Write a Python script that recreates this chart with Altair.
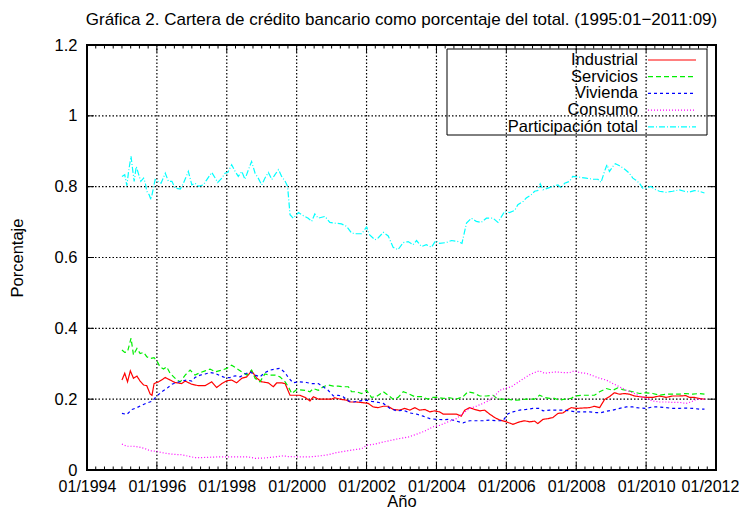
import altair as alt
import pandas as pd

TITLE = "Gráfica 2. Cartera de crédito bancario como porcentaje del total. (1995:01−2011:09)"
SERIES = ["Industrial", "Servicios", "Vivienda", "Consumo", "Participación total"]
COLORS = ["#ff0000", "#00ee00", "#0000ff", "#ff00ff", "#00ffff"]
DASHES = [[1, 0], [5, 3], [3, 3], [1, 2], [6, 2, 1, 2]]
X_TICKS = [1994, 1996, 1998, 2000, 2002, 2004, 2006, 2008, 2010, 2012]
Y_TICKS = [0, 0.2, 0.4, 0.6, 0.8, 1.0, 1.2]

industrial_t = [1995.00, 1995.08, 1995.16, 1995.24, 1995.33, 1995.43, 1995.52, 1995.62, 1995.71, 1995.81,
                1995.86, 1995.92, 1996.05, 1996.24, 1996.38, 1996.52, 1996.71, 1996.81, 1997.00, 1997.19,
                1997.38, 1997.57, 1997.71, 1997.86, 1998.00, 1998.14, 1998.28, 1998.43, 1998.57, 1998.71,
                1998.86, 1999.00, 1999.19, 1999.33, 1999.43, 1999.57, 1999.67, 1999.81, 1999.95, 2000.09,
                2000.24, 2000.38, 2000.48, 2000.62, 2000.81, 2001.00, 2001.09, 2001.24, 2001.43, 2001.52,
                2001.71, 2001.90, 2002.05, 2002.19, 2002.33, 2002.48, 2002.62, 2002.76, 2002.95, 2003.09,
                2003.24, 2003.38, 2003.52, 2003.67, 2003.81, 2003.95, 2004.09, 2004.19, 2004.38, 2004.57,
                2004.71, 2004.81, 2004.95, 2005.09, 2005.24, 2005.38, 2005.52, 2005.67, 2005.81, 2006.00,
                2006.19, 2006.38, 2006.52, 2006.67, 2006.81, 2006.90, 2007.05, 2007.19, 2007.33, 2007.48,
                2007.62, 2007.76, 2007.86, 2008.00, 2008.19, 2008.38, 2008.52, 2008.67, 2008.81, 2008.95,
                2009.09, 2009.24, 2009.38, 2009.52, 2009.67, 2009.81, 2010.00, 2010.19, 2010.38, 2010.57,
                2010.76, 2010.95, 2011.14, 2011.24, 2011.38, 2011.52, 2011.67]
industrial_v = [0.254, 0.273, 0.249, 0.280, 0.259, 0.265, 0.251, 0.240, 0.238, 0.214,
                0.211, 0.244, 0.249, 0.261, 0.254, 0.247, 0.244, 0.251, 0.242, 0.238,
                0.238, 0.249, 0.233, 0.244, 0.252, 0.254, 0.246, 0.259, 0.263, 0.280,
                0.259, 0.249, 0.246, 0.235, 0.246, 0.246, 0.244, 0.211, 0.211, 0.211,
                0.205, 0.195, 0.207, 0.200, 0.200, 0.200, 0.204, 0.200, 0.197, 0.192,
                0.192, 0.190, 0.188, 0.178, 0.176, 0.180, 0.180, 0.171, 0.169, 0.174,
                0.169, 0.176, 0.169, 0.171, 0.164, 0.167, 0.164, 0.158, 0.158, 0.158,
                0.152, 0.169, 0.176, 0.171, 0.167, 0.169, 0.158, 0.148, 0.141, 0.136,
                0.129, 0.136, 0.139, 0.136, 0.138, 0.131, 0.143, 0.145, 0.148, 0.160,
                0.161, 0.171, 0.176, 0.174, 0.175, 0.176, 0.180, 0.176, 0.199, 0.207,
                0.218, 0.214, 0.216, 0.214, 0.209, 0.207, 0.205, 0.205, 0.209, 0.205,
                0.209, 0.209, 0.210, 0.205, 0.205, 0.202, 0.200]

servicios_t = [1995.00, 1995.08, 1995.16, 1995.26, 1995.33, 1995.43, 1995.52, 1995.62, 1995.71, 1995.81,
               1995.92, 1996.00, 1996.09, 1996.19, 1996.28, 1996.38, 1996.48, 1996.57, 1996.67, 1996.81,
               1996.95, 1997.09, 1997.24, 1997.38, 1997.52, 1997.67, 1997.86, 1998.00, 1998.14, 1998.28,
               1998.43, 1998.57, 1998.71, 1998.81, 1998.95, 1999.09, 1999.24, 1999.38, 1999.52, 1999.67,
               1999.76, 1999.86, 2000.00, 2000.24, 2000.38, 2000.48, 2000.62, 2000.76, 2000.90, 2001.05,
               2001.19, 2001.33, 2001.48, 2001.57, 2001.71, 2001.86, 2002.00, 2002.14, 2002.28, 2002.48,
               2002.62, 2002.76, 2002.90, 2003.05, 2003.19, 2003.38, 2003.57, 2003.76, 2003.90, 2004.05,
               2004.19, 2004.38, 2004.57, 2004.76, 2004.90, 2005.05, 2005.24, 2005.43, 2005.62, 2005.76,
               2006.00, 2006.28, 2006.57, 2006.81, 2006.95, 2007.09, 2007.24, 2007.38, 2007.52, 2007.67,
               2007.86, 2007.95, 2008.14, 2008.33, 2008.52, 2008.67, 2008.86, 2009.05, 2009.19, 2009.33,
               2009.48, 2009.62, 2009.81, 2010.00, 2010.19, 2010.38, 2010.57, 2010.76, 2010.95, 2011.14,
               2011.33, 2011.52, 2011.67]
servicios_v = [0.339, 0.332, 0.334, 0.372, 0.325, 0.343, 0.329, 0.332, 0.320, 0.315,
               0.317, 0.308, 0.291, 0.285, 0.291, 0.273, 0.263, 0.254, 0.249, 0.268,
               0.282, 0.268, 0.275, 0.280, 0.285, 0.277, 0.282, 0.287, 0.296, 0.287,
               0.277, 0.268, 0.282, 0.259, 0.249, 0.271, 0.268, 0.268, 0.263, 0.249,
               0.235, 0.216, 0.227, 0.225, 0.221, 0.230, 0.225, 0.235, 0.240, 0.237,
               0.237, 0.235, 0.235, 0.221, 0.221, 0.216, 0.225, 0.205, 0.207, 0.221,
               0.211, 0.200, 0.205, 0.221, 0.216, 0.207, 0.207, 0.200, 0.205, 0.205,
               0.202, 0.204, 0.200, 0.207, 0.221, 0.218, 0.209, 0.209, 0.211, 0.200,
               0.200, 0.197, 0.200, 0.200, 0.211, 0.205, 0.202, 0.202, 0.197, 0.200,
               0.202, 0.209, 0.211, 0.211, 0.211, 0.221, 0.230, 0.225, 0.232, 0.227,
               0.224, 0.221, 0.216, 0.218, 0.216, 0.211, 0.214, 0.214, 0.214, 0.216,
               0.214, 0.216, 0.214]

vivienda_t = [1995.00, 1995.14, 1995.29, 1995.43, 1995.57, 1995.71, 1995.86, 1996.00, 1996.14, 1996.28,
              1996.43, 1996.57, 1996.71, 1996.86, 1997.00, 1997.09, 1997.24, 1997.38, 1997.52, 1997.67,
              1997.81, 1997.95, 1998.09, 1998.24, 1998.38, 1998.52, 1998.67, 1998.81, 1998.95, 1999.09,
              1999.24, 1999.38, 1999.52, 1999.67, 1999.76, 1999.90, 2000.05, 2000.28, 2000.43, 2000.62,
              2000.76, 2000.90, 2001.05, 2001.19, 2001.33, 2001.48, 2001.62, 2001.81, 2002.00, 2002.14,
              2002.28, 2002.48, 2002.67, 2002.86, 2003.05, 2003.24, 2003.43, 2003.62, 2003.81, 2004.00,
              2004.19, 2004.38, 2004.57, 2004.76, 2004.95, 2005.14, 2005.33, 2005.52, 2005.71, 2005.90,
              2006.05, 2006.19, 2006.38, 2006.57, 2006.76, 2006.95, 2007.05, 2007.24, 2007.43, 2007.62,
              2007.81, 2008.00, 2008.19, 2008.38, 2008.57, 2008.71, 2008.86, 2009.05, 2009.24, 2009.43,
              2009.62, 2009.81, 2010.00, 2010.19, 2010.38, 2010.57, 2010.76, 2010.95, 2011.14, 2011.33,
              2011.52, 2011.67]
vivienda_v = [0.160, 0.157, 0.171, 0.176, 0.183, 0.189, 0.194, 0.209, 0.221, 0.230,
              0.242, 0.247, 0.251, 0.254, 0.251, 0.261, 0.268, 0.271, 0.275, 0.273,
              0.266, 0.261, 0.261, 0.266, 0.263, 0.271, 0.277, 0.268, 0.263, 0.275,
              0.282, 0.285, 0.287, 0.275, 0.261, 0.246, 0.249, 0.247, 0.244, 0.244,
              0.235, 0.225, 0.209, 0.211, 0.207, 0.195, 0.192, 0.195, 0.197, 0.194,
              0.192, 0.188, 0.174, 0.167, 0.169, 0.161, 0.158, 0.152, 0.145, 0.143,
              0.142, 0.143, 0.138, 0.133, 0.139, 0.139, 0.139, 0.141, 0.139, 0.139,
              0.159, 0.164, 0.169, 0.171, 0.174, 0.174, 0.167, 0.169, 0.169, 0.169,
              0.167, 0.164, 0.164, 0.164, 0.162, 0.162, 0.166, 0.169, 0.174, 0.178,
              0.178, 0.175, 0.174, 0.178, 0.178, 0.176, 0.174, 0.174, 0.175, 0.174,
              0.172, 0.172]

consumo_t = [1995.00, 1995.14, 1995.33, 1995.48, 1995.67, 1995.81, 1996.00, 1996.14, 1996.33, 1996.52,
             1996.71, 1996.90, 1997.09, 1997.29, 1997.76, 1998.24, 1998.62, 1998.81, 1999.09, 1999.38,
             1999.62, 1999.76, 2000.05, 2000.38, 2000.67, 2000.90, 2001.14, 2001.43, 2001.71, 2001.86,
             2002.00, 2002.24, 2002.48, 2002.71, 2002.95, 2003.19, 2003.43, 2003.67, 2003.90, 2004.09,
             2004.33, 2004.57, 2004.76, 2004.95, 2005.14, 2005.33, 2005.52, 2005.71, 2005.81, 2005.95,
             2006.14, 2006.28, 2006.43, 2006.57, 2006.71, 2006.86, 2006.95, 2007.09, 2007.24, 2007.43,
             2007.62, 2007.81, 2007.95, 2008.09, 2008.28, 2008.48, 2008.67, 2008.86, 2009.05, 2009.24,
             2009.43, 2009.62, 2009.81, 2010.00, 2010.19, 2010.38, 2010.57, 2010.76, 2010.95, 2011.14,
             2011.28, 2011.43, 2011.57, 2011.67]
consumo_v = [0.073, 0.067, 0.067, 0.065, 0.060, 0.054, 0.053, 0.049, 0.046, 0.044,
             0.043, 0.039, 0.035, 0.035, 0.037, 0.037, 0.037, 0.033, 0.034, 0.037,
             0.040, 0.038, 0.037, 0.037, 0.040, 0.043, 0.049, 0.054, 0.058, 0.060,
             0.070, 0.073, 0.079, 0.084, 0.089, 0.093, 0.101, 0.110, 0.122, 0.126,
             0.136, 0.145, 0.160, 0.174, 0.180, 0.188, 0.197, 0.214, 0.225, 0.230,
             0.235, 0.244, 0.254, 0.263, 0.271, 0.277, 0.280, 0.273, 0.275, 0.277,
             0.275, 0.275, 0.280, 0.275, 0.273, 0.266, 0.259, 0.254, 0.244, 0.235,
             0.225, 0.218, 0.209, 0.202, 0.195, 0.192, 0.192, 0.191, 0.191, 0.188,
             0.192, 0.199, 0.200, 0.200]

total_t = [1995.00, 1995.08, 1995.14, 1995.19, 1995.26, 1995.30, 1995.35, 1995.41, 1995.48, 1995.54,
           1995.62, 1995.67, 1995.71, 1995.78, 1995.83, 1995.89, 1995.95, 1996.03, 1996.12, 1996.24,
           1996.33, 1996.43, 1996.52, 1996.67, 1996.76, 1996.90, 1997.00, 1997.09, 1997.19, 1997.33,
           1997.43, 1997.57, 1997.67, 1997.74, 1997.86, 1997.95, 1998.03, 1998.14, 1998.24, 1998.33,
           1998.43, 1998.52, 1998.62, 1998.71, 1998.81, 1998.90, 1999.00, 1999.09, 1999.19, 1999.29,
           1999.38, 1999.48, 1999.57, 1999.67, 1999.74, 1999.81, 1999.90, 2000.05, 2000.19, 2000.33,
           2000.43, 2000.52, 2000.62, 2000.81, 2000.95, 2001.09, 2001.28, 2001.43, 2001.57, 2001.71,
           2001.86, 2002.00, 2002.09, 2002.24, 2002.33, 2002.48, 2002.62, 2002.76, 2002.90, 2003.05,
           2003.19, 2003.33, 2003.43, 2003.57, 2003.71, 2003.86, 2003.98, 2004.09, 2004.28, 2004.43,
           2004.62, 2004.73, 2004.86, 2005.00, 2005.14, 2005.28, 2005.43, 2005.62, 2005.76, 2005.95,
           2006.09, 2006.24, 2006.33, 2006.48, 2006.57, 2006.71, 2006.81, 2006.90, 2006.97, 2007.05,
           2007.19, 2007.33, 2007.48, 2007.57, 2007.67, 2007.81, 2007.90, 2008.09, 2008.28, 2008.48,
           2008.62, 2008.71, 2008.81, 2008.88, 2008.95, 2009.05, 2009.12, 2009.24, 2009.38, 2009.52,
           2009.62, 2009.71, 2009.81, 2009.90, 2010.00, 2010.14, 2010.24, 2010.38, 2010.57, 2010.76,
           2010.95, 2011.09, 2011.24, 2011.38, 2011.52, 2011.67]
total_v = [0.829, 0.834, 0.803, 0.843, 0.886, 0.853, 0.815, 0.857, 0.834, 0.815,
           0.824, 0.810, 0.787, 0.777, 0.763, 0.791, 0.820, 0.815, 0.810, 0.838,
           0.815, 0.815, 0.796, 0.793, 0.810, 0.843, 0.805, 0.810, 0.801, 0.805,
           0.820, 0.840, 0.824, 0.812, 0.824, 0.838, 0.840, 0.862, 0.843, 0.829,
           0.843, 0.821, 0.848, 0.871, 0.838, 0.824, 0.805, 0.824, 0.840, 0.820,
           0.834, 0.848, 0.829, 0.815, 0.801, 0.721, 0.711, 0.727, 0.718, 0.711,
           0.702, 0.723, 0.711, 0.716, 0.699, 0.697, 0.695, 0.688, 0.669, 0.667,
           0.667, 0.686, 0.664, 0.650, 0.655, 0.671, 0.661, 0.629, 0.622, 0.642,
           0.645, 0.636, 0.648, 0.631, 0.636, 0.629, 0.648, 0.640, 0.642, 0.648,
           0.645, 0.640, 0.697, 0.711, 0.702, 0.699, 0.711, 0.711, 0.699, 0.730,
           0.727, 0.733, 0.749, 0.758, 0.768, 0.777, 0.787, 0.789, 0.808, 0.791,
           0.796, 0.801, 0.805, 0.796, 0.810, 0.815, 0.829, 0.827, 0.824, 0.821,
           0.821, 0.812, 0.843, 0.862, 0.843, 0.857, 0.865, 0.859, 0.850, 0.838,
           0.824, 0.818, 0.810, 0.796, 0.796, 0.801, 0.793, 0.787, 0.784, 0.787,
           0.791, 0.787, 0.785, 0.789, 0.787, 0.782]

FONT = "Liberation Sans"
W, H = 629, 425

series_data = [
    (SERIES[0], industrial_t, industrial_v),
    (SERIES[1], servicios_t, servicios_v),
    (SERIES[2], vivienda_t, vivienda_v),
    (SERIES[3], consumo_t, consumo_v),
    (SERIES[4], total_t, total_v),
]
frames = [pd.DataFrame({"serie": name, "t": ts, "v": vs}) for name, ts, vs in series_data]
df = pd.concat(frames, ignore_index=True)

color_scale = alt.Scale(domain=SERIES, range=COLORS)
dash_scale = alt.Scale(domain=SERIES, range=DASHES)
x_scale = alt.Scale(domain=[1994, 2012], nice=False, zero=False)
y_scale = alt.Scale(domain=[0, 1.2], nice=False)

x_axis = alt.Axis(values=X_TICKS, labelExpr="'01/' + datum.value", title="Año",
                  labelPadding=8, labelFontSize=16, labelOverlap=False, labelFlush=False,
                  labelOffset=alt.ExprRef(expr="datum.value == 2012 ? -6 : 0"),
                  titleBaseline="alphabetic", titleY=36,
                  grid=False, ticks=False, tickSize=0, domain=False)
y_axis = alt.Axis(values=Y_TICKS, format="~g", title="Porcentaje", labelOverlap=False,
                  labelPadding=10, titlePadding=29, grid=False, ticks=False, tickSize=0, domain=False)

# dotted grid (gnuplot "set grid"), placed through the shared scales
grid_x = pd.DataFrame({"t": X_TICKS[1:-1]})
grid_y = pd.DataFrame({"v": Y_TICKS[1:-1]})
gx = alt.Chart(grid_x).mark_rule(color="black", strokeWidth=1.2, strokeDash=[1.5, 2]).encode(
    x=alt.X("t:Q", scale=x_scale, axis=x_axis))
gy = alt.Chart(grid_y).mark_rule(color="black", strokeWidth=1.2, strokeDash=[1.5, 2]).encode(
    y=alt.Y("v:Q", scale=y_scale, axis=y_axis))

lines = alt.Chart(df).mark_line(strokeWidth=1.2).encode(
    x=alt.X("t:Q", scale=x_scale, axis=x_axis),
    y=alt.Y("v:Q", scale=y_scale, axis=y_axis),
    color=alt.Color("serie:N", scale=color_scale, legend=None),
    strokeDash=alt.StrokeDash("serie:N", scale=dash_scale, legend=None),
)

# gnuplot-style inward ticks
minor_x = pd.DataFrame({"t": [1994 + q / 4 for q in range(1, 72) if q % 8 != 0]})

def xticks(data, y0, y1):
    return alt.Chart(data).mark_rule(color="black", strokeWidth=1).encode(
        x=alt.X("t:Q", scale=x_scale, axis=x_axis), y=alt.value(y0), y2=alt.value(y1))

def yticks(data, x0, x1):
    return alt.Chart(data).mark_rule(color="black", strokeWidth=1).encode(
        y=alt.Y("v:Q", scale=y_scale, axis=y_axis), x=alt.value(x0), x2=alt.value(x1))

tick_layers = [
    xticks(grid_x, H, H - 7), xticks(grid_x, 0, 7),
    xticks(minor_x, H, H - 3.5), xticks(minor_x, 0, 3.5),
    yticks(grid_y, 0, 7), yticks(grid_y, W, W - 7),
]

# plot border
border = alt.Chart(pd.DataFrame({"k": [0]})).mark_rect(
    fillOpacity=0, stroke="black", strokeWidth=2).encode(
    x=alt.value(0), x2=alt.value(W), y=alt.value(0), y2=alt.value(H))

# gnuplot-style key: label on the left, line sample on the right
LEG_Y = [15 + 16.7 * i for i in range(len(SERIES))]
key_layers = [alt.Chart(pd.DataFrame({"k": [0]})).mark_rect(
    fillOpacity=0, stroke="black", strokeWidth=1).encode(
    x=alt.value(360), x2=alt.value(620), y=alt.value(4), y2=alt.value(90))]
for name, col, dash, ly in zip(SERIES, COLORS, DASHES, LEG_Y):
    one = pd.DataFrame({"serie": [name]})
    key_layers.append(alt.Chart(one).mark_text(
        align="right", baseline="middle", font=FONT, fontSize=16.5, color="black").encode(
        x=alt.value(551), y=alt.value(ly), text="serie:N"))
    key_layers.append(alt.Chart(one).mark_rule(
        strokeWidth=1.2, color=col, strokeDash=dash).encode(
        x=alt.value(561), x2=alt.value(609), y=alt.value(ly)))

chart = alt.layer(gx, gy, lines, *tick_layers, border, *key_layers).properties(
    width=W, height=H,
    title=alt.TitleParams(TITLE, font=FONT, fontSize=17, fontWeight="normal",
                          anchor="middle", color="black", offset=8, frame="group"),
    autosize=alt.AutoSizeParams(type="none"),
    padding={"left": 79, "top": 37, "right": 23, "bottom": 40},
).configure_view(
    stroke=None
).configure_axis(
    labelFont=FONT, labelFontSize=16.5, labelColor="black",
    titleFont=FONT, titleFontSize=16.5, titleFontWeight="normal", titleColor="black",
)

chart.save("out.html", embed_options={"renderer": "svg", "actions": False})
